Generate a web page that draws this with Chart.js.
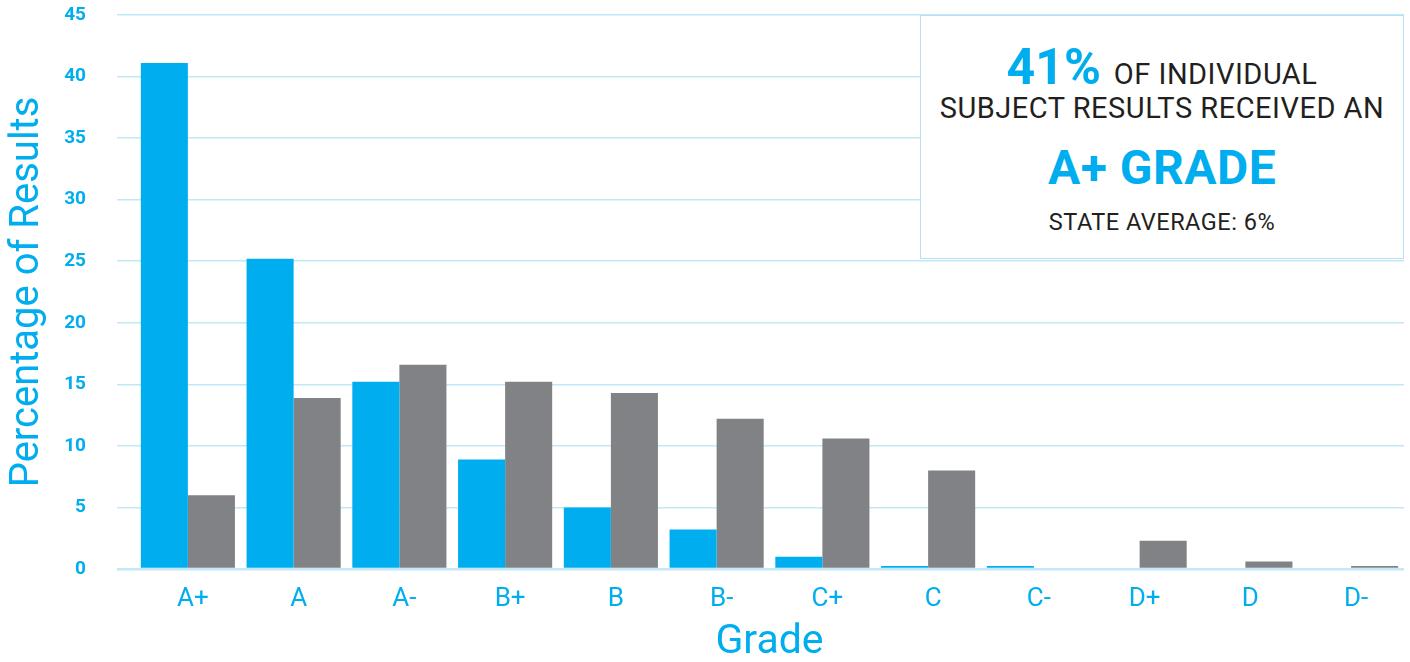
<!DOCTYPE html>
<html>
<head>
<meta charset="utf-8">
<script src="https://cdn.jsdelivr.net/npm/chart.js@4"></script>
<style>
  html, body { margin: 0; padding: 0; background: #fff; }
  #wrap { position: relative; width: 1410px; height: 662px; }
  #callout {
    position: absolute; box-sizing: border-box; background: #fff;
    border: 1.5px solid #b3e2f5; font-family: Roboto, sans-serif; color: #231f20;
  }
  #callout div { position: absolute; left: 0; right: 0; text-align: center; white-space: nowrap; line-height: 1; letter-spacing: 0.5px; }
  .big { color: #00aeef; font-weight: 700; letter-spacing: 0; }
</style>
</head>
<body>
<div id="wrap">
  <canvas id="gradeChart" width="1410" height="662"></canvas>
  <div id="callout">
    <div style="top:26px;font-size:50px"><span class="big" style="font-size:50px">41%</span> <span style="font-size:29px">OF INDIVIDUAL</span></div>
    <div style="top:78px;font-size:29px">SUBJECT RESULTS RECEIVED AN</div>
    <div class="big" style="top:128px;font-size:48px">A+ GRADE</div>
    <div style="top:195px;font-size:23.5px">STATE AVERAGE: 6%</div>
  </div>
</div>
<script>
// データ
const grades = ['A+', 'A', 'A-', 'B+', 'B', 'B-', 'C+', 'C', 'C-', 'D+', 'D', 'D-'];
const schoolPct = [41.1, 25.2, 15.2, 8.9, 5.0, 3.2, 1.0, 0.25, 0.25, 0, 0, 0];
const statePct = [6.0, 13.9, 16.6, 15.2, 14.3, 12.2, 10.6, 8.0, 0, 2.3, 0.6, 0.25];
const yTicks = [0, 5, 10, 15, 20, 25, 30, 35, 40, 45];

const BLUE = '#00aeef';
const GREY = '#808285';
const GRID = '#c2e8f7';

// 右上の枠をチャート領域に合わせる
const calloutPlugin = {
    id: 'callout',
    afterLayout(chart) {
        const a = chart.chartArea;
        const el = document.getElementById('callout');
        el.style.left = (a.right - 484) + 'px';
        el.style.top = a.top + 'px';
        el.style.width = 484 + 'px';
        el.style.height = 244 + 'px';
    }
};

const ctx = document.getElementById('gradeChart').getContext('2d');
window.gradeChart = new Chart(ctx, {
    type: 'bar',
    data: {
        labels: grades,
        datasets: [
            { label: 'School', data: schoolPct, backgroundColor: BLUE },
            { label: 'State', data: statePct, backgroundColor: GREY }
        ]
    },
    options: {
        responsive: false,
        animation: false,
        categoryPercentage: 0.89,
        barPercentage: 1.0,
        layout: { padding: { left: 4, right: 6, top: 0, bottom: 0 } },
        plugins: {
            legend: { display: false },
            tooltip: { enabled: false }
        },
        scales: {
            x: {
                afterFit(scale) { scale.height = 93; },
                grid: { display: false, drawTicks: false },
                border: { display: false },
                ticks: {
                    color: BLUE,
                    font: { family: 'Roboto', size: 26 },
                    padding: 15,
                    labelOffset: 5
                },
                title: {
                    display: true, text: 'Grade', color: BLUE,
                    font: { family: 'Roboto', size: 41, lineHeight: 0.95 },
                    padding: { top: 0, bottom: 0 }
                }
            },
            y: {
                min: 0, max: 45,
                afterBuildTicks(scale) { scale.ticks = yTicks.map(v => ({ value: v })); },
                afterFit(scale) {
                    // ラベル間隔の分だけ上下に余白が付くので上書き
                    scale.width = 131;
                    scale.paddingTop = 15;
                    scale.paddingBottom = 0;
                },
                grid: {
                    color: GRID,
                    lineWidth: c => (c.tick && c.tick.value === 0 ? 2.5 : 1.5),
                    tickLength: 18
                },
                border: { display: false },
                ticks: {
                    color: BLUE,
                    font: { family: 'Roboto', size: 19, weight: 'bold' },
                    padding: 31
                },
                title: {
                    display: true, text: 'Percentage of Results', color: BLUE,
                    font: { family: 'Roboto', size: 40 },
                    padding: { top: 0, bottom: 0 }
                }
            }
        }
    },
    plugins: [calloutPlugin]
});
</script>
</body>
</html>
